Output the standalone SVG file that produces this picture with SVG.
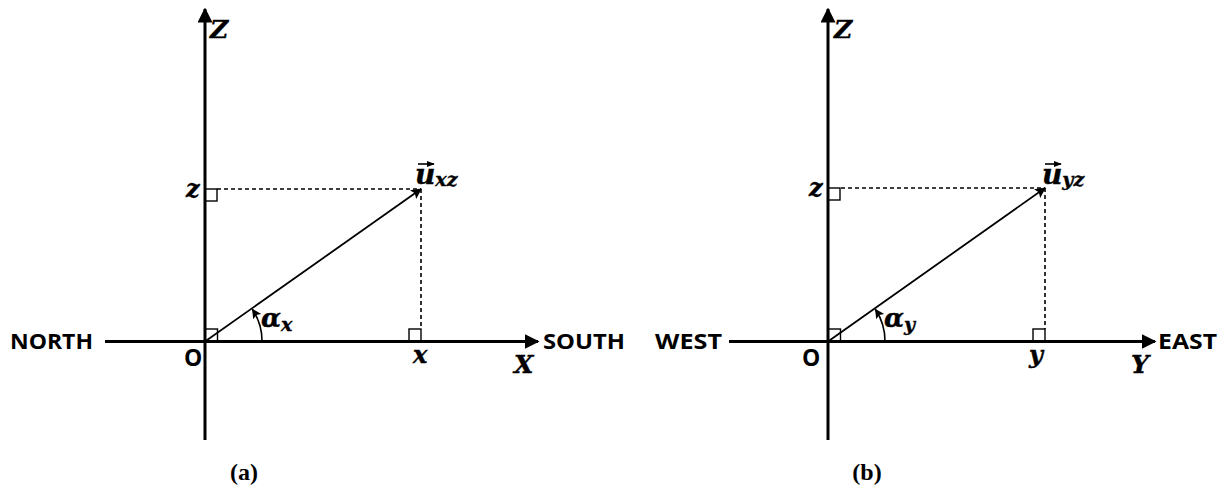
<svg xmlns="http://www.w3.org/2000/svg" width="1229" height="491" viewBox="0 0 1229 491">
<style>
.axis{stroke:#000;stroke-width:3;fill:none}
.vec{stroke:#000;stroke-width:1.8;fill:none}
.dash{stroke:#000;stroke-width:1.6;stroke-dasharray:4 3;fill:none}
.sq{stroke:#000;stroke-width:1.4;fill:none}
.arc{stroke:#000;stroke-width:1.6;fill:none}
.m{font-family:"DejaVu Serif","Liberation Serif",serif;font-weight:bold;font-style:italic;fill:#000;stroke:#000;stroke-width:0.4}
.s{font-family:"Open Sans","Liberation Sans",sans-serif;font-weight:bold;fill:#000;font-size:21px}
.o{font-family:"Open Sans","Liberation Sans",sans-serif;font-weight:bold;fill:#000;font-size:23px}
.cap{font-family:"Liberation Serif",serif;font-weight:bold;fill:#000;font-size:24px}
</style>
<defs>
<marker id="ah" viewBox="0 0 10 10" refX="9" refY="5" markerWidth="5" markerHeight="5" markerUnits="strokeWidth" orient="auto"><path d="M0,0 L10,5 L0,10 Z" fill="#000"/></marker>
<marker id="ahv" viewBox="0 0 10 10" refX="9" refY="5" markerWidth="7" markerHeight="6" markerUnits="strokeWidth" orient="auto"><path d="M0,0 L10,5 L0,10 L2,5 Z" fill="#000"/></marker>
<marker id="ahs" viewBox="0 0 10 10" refX="9" refY="5" markerWidth="5" markerHeight="5" markerUnits="strokeWidth" orient="auto"><path d="M0,1 L10,5 L0,9 Z" fill="#000"/></marker>
</defs>
<g id="connectors">
<line class="axis" x1="205" y1="440" x2="205" y2="9" marker-end="url(#ah)"/>
<line class="axis" x1="105" y1="341.5" x2="538" y2="341.5" marker-end="url(#ah)"/>
<line class="dash" x1="217" y1="189" x2="421" y2="189"/>
<line class="dash" x1="421" y1="189" x2="421" y2="329"/>
<line class="vec" x1="205" y1="341.5" x2="421" y2="189" marker-end="url(#ahv)"/>
<path class="arc" d="M262,341.5 A57,57 0 0 0 252.5,309.5" marker-end="url(#ahv)"/>
<line class="axis" x1="828" y1="440" x2="828" y2="9" marker-end="url(#ah)"/>
<line class="axis" x1="729" y1="341.5" x2="1155" y2="341.5" marker-end="url(#ah)"/>
<line class="dash" x1="841" y1="188" x2="1045" y2="188"/>
<line class="dash" x1="1045" y1="188" x2="1045" y2="329"/>
<line class="vec" x1="828" y1="341.5" x2="1045" y2="188" marker-end="url(#ahv)"/>
<path class="arc" d="M885,341.5 A57,57 0 0 0 875.5,309.5" marker-end="url(#ahv)"/>
</g>
<g id="panel-a">
<rect class="sq" x="205" y="329" width="12.5" height="12.5"/>
<rect class="sq" x="205" y="189" width="12" height="12"/>
<rect class="sq" x="409" y="329" width="12" height="12.5"/>
<text class="m" x="210" y="38" font-size="25">Z</text>
<text class="m" x="186" y="197" font-size="24">z</text>
<text class="s" x="10" y="349" textLength="83" lengthAdjust="spacingAndGlyphs">NORTH</text>
<text class="o" x="184" y="366">O</text>
<text class="s" x="543" y="349" textLength="82" lengthAdjust="spacingAndGlyphs">SOUTH</text>
<text class="m" x="413" y="363" font-size="24">x</text>
<text class="m" x="514" y="373" font-size="25">X</text>
<text class="m" x="261" y="327" font-size="26">α<tspan font-size="19" dy="4">x</tspan></text>
<text class="m" x="415" y="184" font-size="28">u<tspan font-size="19" dy="2">xz</tspan></text>
<line stroke="#000" stroke-width="1.6" x1="418" y1="164" x2="434" y2="164" marker-end="url(#ahs)"/>
<text class="cap" x="244" y="480" text-anchor="middle">(a)</text>
</g>
<g id="panel-b">
<rect class="sq" x="828" y="329" width="12.5" height="12.5"/>
<rect class="sq" x="828" y="188" width="12" height="12"/>
<rect class="sq" x="1033" y="329" width="12" height="12.5"/>
<text class="m" x="834" y="38" font-size="25">Z</text>
<text class="m" x="809" y="196" font-size="24">z</text>
<text class="s" x="655" y="349" textLength="67" lengthAdjust="spacingAndGlyphs">WEST</text>
<text class="o" x="802" y="366">O</text>
<text class="s" x="1158" y="349" textLength="59" lengthAdjust="spacingAndGlyphs">EAST</text>
<text class="m" x="1029" y="363" font-size="24">y</text>
<text class="m" x="1131" y="373" font-size="25">Y</text>
<text class="m" x="884" y="327" font-size="26">α<tspan font-size="19" dy="4">y</tspan></text>
<text class="m" x="1042" y="184" font-size="28">u<tspan font-size="19" dy="2">yz</tspan></text>
<line stroke="#000" stroke-width="1.6" x1="1045" y1="164" x2="1061" y2="164" marker-end="url(#ahs)"/>
<text class="cap" x="867" y="480" text-anchor="middle">(b)</text>
</g>
</svg>
